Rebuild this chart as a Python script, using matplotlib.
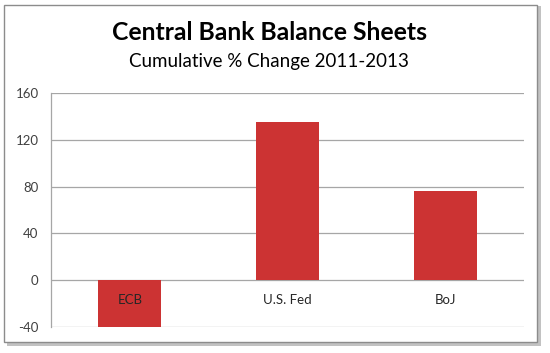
import matplotlib.pyplot as plt
from matplotlib.patches import Rectangle

banks = ['ECB', 'U.S. Fed', 'BoJ']
changes = [-40, 135, 76]
yticks = [-40, 0, 40, 80, 120, 160]

plt.rcParams['font.family'] = ['Lato', 'DejaVu Sans']

W, H = 550, 353
fig = plt.figure(figsize=(W / 100, H / 100), dpi=100)

# drop shadow + chart frame (kept below the axes)
fig.patches.append(Rectangle((7 / W, 1 - 346 / H), 534 / W, 340 / H, transform=fig.transFigure,
                             facecolor='#9a9a9a', edgecolor='none', alpha=0.6, zorder=-3))
fig.patches.append(Rectangle((4 / W, 1 - 342 / H), 533 / W, 337 / H, transform=fig.transFigure,
                             facecolor='white', edgecolor='#8c8c8c', lw=1.0, zorder=-2))

ax = fig.add_axes([51 / W, 1 - 327 / H, 473 / W, 234 / H])
ax.set_facecolor('none')
ax.bar(range(len(banks)), changes, width=0.4, color='#cc3333', zorder=2)

ax.set_xlim(-0.5, 2.5)
ax.set_ylim(-40, 160)
ax.set_yticks(yticks)
ax.set_yticklabels([str(v) for v in yticks], fontsize=9.5, color='#404040')
ax.tick_params(axis='y', length=0, pad=9)
ax.set_xticks([])
for v in yticks:
    ax.axhline(v, color='#a6a6a6', lw=0.9, zorder=1)
for s in ['top', 'right', 'bottom']:
    ax.spines[s].set_visible(False)
ax.spines['left'].set_color('#a6a6a6')
ax.spines['left'].set_linewidth(0.9)

for i, name in enumerate(banks):
    ax.text(i, -17, name, ha='center', va='center', fontsize=9.5, color='#262626', zorder=3)

fig.text(270 / W, 1 - 33 / H, 'Central Bank Balance Sheets', ha='center', va='center',
         fontsize=17.8, fontweight='bold', color='black')
fig.text(269 / W, 1 - 62 / H, 'Cumulative % Change 2011-2013', ha='center', va='center',
         fontsize=13.5, color='black')

fig.savefig('out.png', dpi=100)
